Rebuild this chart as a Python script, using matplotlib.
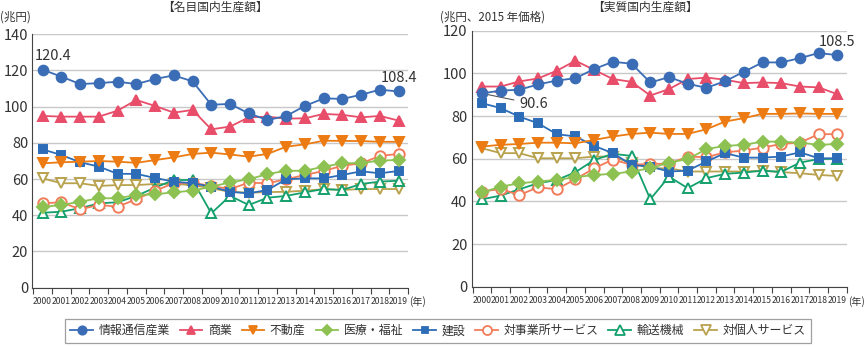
import numpy as np
import matplotlib
matplotlib.use("Agg")
import matplotlib.pyplot as plt
from matplotlib.lines import Line2D

plt.rcParams['font.family'] = ['Noto Sans CJK JP', 'DejaVu Sans']

# --- data ---
years = list(range(2000, 2020))
series_names = ["情報通信産業", "商業", "不動産", "医療・福祉", "建設",
                "対事業所サービス", "輸送機械", "対個人サービス"]

# nominal (兆円)
nom_ict = [120.4, 116.6, 112.5, 113.0, 113.8, 112.5, 115.3, 117.3, 114.0, 101.1,
           101.5, 96.3, 92.6, 94.9, 100.4, 104.6, 104.3, 106.6, 109.4, 108.4]
nom_com = [94.9, 94.5, 94.5, 94.5, 97.8, 103.7, 100.4, 96.7, 98.2, 87.5,
           89.0, 94.1, 94.5, 93.4, 93.6, 96.0, 95.5, 94.1, 94.9, 92.3]
nom_rea = [68.7, 69.3, 69.6, 70.0, 69.6, 69.0, 70.5, 72.0, 73.9, 74.6,
           73.6, 72.4, 73.9, 77.9, 79.2, 81.2, 81.1, 81.0, 80.6, 80.6]
nom_med = [44.6, 45.7, 47.5, 49.4, 49.4, 51.2, 51.6, 52.7, 53.6, 55.8,
           58.2, 59.9, 62.8, 64.6, 64.6, 66.9, 68.7, 68.9, 70.2, 70.6]
nom_con = [76.4, 73.3, 69.3, 66.9, 62.9, 62.9, 60.6, 58.6, 57.7, 55.8,
           53.0, 52.1, 54.0, 59.9, 60.4, 60.4, 62.3, 64.3, 63.2, 64.5]
nom_bus = [46.6, 47.2, 43.3, 45.7, 44.8, 48.8, 53.6, 57.7, 58.0, 56.2,
           54.5, 58.0, 57.7, 59.9, 62.3, 64.5, 67.4, 68.7, 72.8, 73.9]
nom_tra = [41.4, 42.0, 43.9, 46.6, 47.2, 50.7, 55.3, 59.5, 59.5, 41.1,
           50.7, 45.7, 49.7, 50.7, 52.7, 54.5, 54.0, 57.3, 58.6, 59.1]
nom_per = [60.4, 57.7, 57.7, 56.2, 56.7, 56.7, 57.3, 57.3, 56.7, 54.9,
           53.0, 52.5, 52.8, 53.0, 53.6, 54.4, 54.0, 54.5, 54.5, 54.5]

# real (兆円、2015年価格)
real_ict = [90.6, 91.9, 92.3, 94.8, 96.6, 97.7, 102.0, 105.4, 104.5, 95.7,
            98.2, 95.1, 93.2, 96.3, 100.7, 105.1, 105.1, 107.1, 109.5, 108.5]
real_com = [93.8, 93.8, 96.2, 97.6, 101.2, 105.9, 101.6, 97.3, 96.0, 89.6,
            92.6, 97.3, 98.0, 97.0, 95.4, 95.7, 95.4, 93.8, 93.4, 90.2]
real_rea = [65.7, 66.5, 66.9, 67.5, 67.5, 67.2, 68.8, 70.4, 71.6, 72.2,
            71.6, 71.6, 73.8, 77.4, 79.0, 81.0, 81.0, 81.2, 81.0, 81.0]
real_med = [44.2, 46.9, 48.5, 49.3, 50.1, 51.3, 52.4, 52.9, 54.0, 55.5,
            58.2, 59.8, 64.5, 66.0, 66.5, 68.0, 68.0, 67.5, 66.5, 66.9]
real_con = [86.0, 83.7, 79.7, 76.6, 71.5, 70.4, 66.0, 62.6, 57.1, 56.3,
            54.0, 54.4, 58.7, 62.6, 60.5, 60.5, 61.0, 63.0, 60.2, 60.2]
real_bus = [44.6, 45.8, 43.0, 46.6, 45.7, 50.4, 55.5, 59.6, 57.1, 57.6,
            57.6, 61.0, 60.7, 63.0, 63.8, 65.2, 66.9, 67.5, 71.5, 71.5]
real_tra = [41.0, 42.7, 45.7, 48.5, 50.0, 53.7, 59.4, 62.3, 61.3, 41.0,
            51.6, 46.2, 50.9, 52.9, 53.5, 54.4, 53.8, 58.2, 59.8, 60.0]
real_per = [64.9, 62.6, 62.6, 60.2, 60.2, 60.2, 61.0, 61.0, 57.9, 55.5,
            55.5, 54.0, 54.0, 54.0, 54.0, 54.4, 53.7, 53.2, 52.4, 51.9]

nominal = [nom_ict, nom_com, nom_rea, nom_med, nom_con, nom_bus, nom_tra, nom_per]
real = [real_ict, real_com, real_rea, real_med, real_con, real_bus, real_tra, real_per]

# --- styles ---
colors = ["#3A6DB5", "#E84E6A", "#EB7B12", "#8DC253", "#2D6DB8",
          "#F27C5A", "#14A06C", "#B9A24E"]
markers = ["o", "^", "v", "D", "s", "o", "^", "v"]
filled = [True, True, True, True, True, False, False, False]
msizes = [7, 7, 7, 6, 6, 7.5, 7.5, 7.5]
draw_order = [7, 6, 5, 4, 3, 2, 1, 0]

fig = plt.figure(figsize=(8.67, 3.47), dpi=100)
axL = fig.add_axes([0.0373, 0.1709, 0.4333, 0.7303])
axR = fig.add_axes([0.5440, 0.1735, 0.4326, 0.7383])

x = np.arange(len(years))


def draw(ax, data, ymax):
    for k in draw_order:
        ax.plot(x, data[k], color=colors[k], lw=1.3, marker=markers[k],
                ms=msizes[k], mfc=colors[k] if filled[k] else "white",
                mec=colors[k], mew=1.4, zorder=3 + (8 - k) * 0.1, clip_on=False)
    ax.set_xlim(-0.55, 19.5)
    ax.set_ylim(0, ymax)
    ax.set_yticks(np.arange(0, ymax + 1, 20))
    ax.yaxis.grid(True, color="#c8c8c8", lw=1.0)
    ax.set_axisbelow(True)
    for s in ["top", "right"]:
        ax.spines[s].set_visible(False)
    ax.spines["left"].set_color("#444444")
    ax.spines["bottom"].set_color("#444444")
    ax.spines["left"].set_bounds(0, ymax)
    ax.tick_params(axis="y", length=0, labelsize=10.5, pad=3, colors="#333333")
    ax.set_xticks(np.arange(-0.5, 19.6, 1.0))
    ax.set_xticklabels([])
    ax.tick_params(axis="x", direction="out", length=4, color="#444444")
    for i, yr in enumerate(years):
        ax.text(i, -0.035, str(yr), transform=ax.get_xaxis_transform(),
                ha="center", va="top", fontsize=6.2, color="#333333")
    ax.text(19.55, -0.035, "(年)", transform=ax.get_xaxis_transform(),
            ha="left", va="top", fontsize=7.2, color="#333333")


draw(axL, nominal, 140)
draw(axR, real, 120)

# labels
axL.text(0.55, nom_ict[0] + 3.5, "120.4", ha="center", va="bottom",
         fontsize=10.5, color="#333333")
axL.text(19, nom_ict[-1] + 3.5, "108.4", ha="center", va="bottom",
         fontsize=10.5, color="#333333")
axR.text(19, real_ict[-1] + 3, "108.5", ha="center", va="bottom",
         fontsize=10.5, color="#333333")
axR.annotate("90.6", xy=(0, real_ict[0]), xytext=(2.0, real_ict[0] - 5),
             ha="left", va="center", fontsize=10.5, color="#333333",
             arrowprops=dict(arrowstyle="-", color="#555555", lw=0.8))

fig.text(0.248, 0.978, "【名目国内生産額】", ha="center", va="center",
         fontsize=8.5, color="#333333")
fig.text(0.744, 0.978, "【実質国内生産額】", ha="center", va="center",
         fontsize=8.5, color="#333333")
fig.text(0.0, 0.95, "(兆円)", ha="left", va="center", fontsize=8.3,
         color="#333333")
fig.text(0.508, 0.95, "(兆円、2015 年価格)", ha="left", va="center",
         fontsize=8.3, color="#333333")

handles = [Line2D([0], [0], color=colors[k], lw=1.3, marker=markers[k],
                  ms=msizes[k] - 1, mfc=colors[k] if filled[k] else "white",
                  mec=colors[k], mew=1.3)
           for k in range(8)]
leg = fig.legend(handles, series_names, loc="center", ncol=8,
                 bbox_to_anchor=(0.505, 0.047), frameon=True, fontsize=8.6,
                 handlelength=1.9, handletextpad=0.45, columnspacing=0.85,
                 borderpad=0.45, fancybox=False)
leg.get_frame().set_edgecolor("#888888")
leg.get_frame().set_linewidth(0.9)
for t in leg.get_texts():
    t.set_color("#333333")

fig.savefig("out.png", dpi=100)
